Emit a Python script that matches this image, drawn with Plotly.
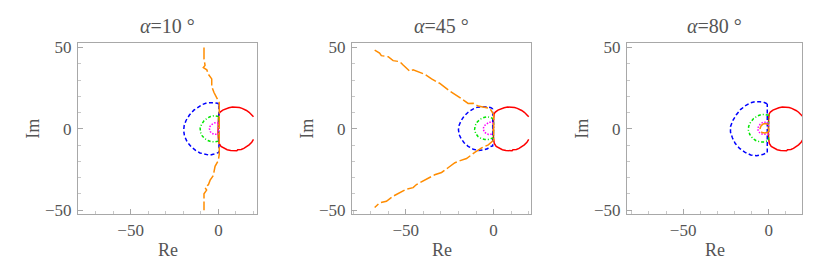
import plotly.graph_objects as go

TITLES = ["<i>α</i>=10 °", "<i>α</i>=45 °", "<i>α</i>=80 °"]
X_TICKS = [-50, 0]
Y_TICKS = [-50, 0, 50]

# Red boundary (same in all panels)
RED_X = [20.0, 19.0, 17.5, 16.0, 15.0, 13.5, 12.0, 10.0, 8.0, 6.0, 4.0, 2.5, 1.0, 0.3, 0.0, -0.2, -0.2, 0.0, 0.4, 1.5, 3.0, 5.0, 7.0, 9.0, 10.5, 11.0, 13.0, 14.5, 16.0, 17.5, 19.0, 20.0]
RED_Y = [7.5, 8.8, 10.2, 11.3, 12.0, 12.6, 13.1, 13.4, 13.4, 13.0, 12.3, 11.5, 10.3, 9.2, 6.0, 2.0, -2.0, -6.0, -9.0, -10.8, -11.8, -12.8, -13.3, -13.5, -13.5, -12.8, -12.7, -12.0, -11.0, -9.8, -8.2, -6.5]

# Panel 1 (alpha = 10)
P1_BLUE_X = [0.3, -0.5, -2.0, -4.0, -6.5, -9.0, -11.5, -14.0, -16.5, -18.5, -19.5, -19.8, -19.3, -17.8, -15.5, -13.0, -10.5, -7.5, -5.0, -2.5, 0.0, 0.3, 0.3, 0.3]
P1_BLUE_Y = [15.0, 15.8, 16.0, 16.2, 16.0, 15.0, 13.5, 11.5, 8.5, 5.0, 2.0, -1.0, -4.5, -8.0, -11.0, -13.2, -14.8, -15.8, -16.2, -15.5, -15.0, -14.5, 0.0, 15.0]
P1_GREEN_X = [0.2, -1.0, -2.5, -4.5, -6.5, -8.3, -9.6, -10.4, -10.2, -9.3, -7.8, -6.0, -4.0, -2.0, -0.5, 0.2, 0.2, 0.2]
P1_GREEN_Y = [7.6, 8.0, 8.1, 7.6, 6.5, 4.8, 2.8, 0.5, -2.0, -4.2, -6.0, -7.2, -7.9, -8.0, -7.7, -7.5, 0.0, 7.6]
P1_MAG_X = [0.1, -1.0, -2.3, -3.6, -4.8, -5.1, -4.7, -3.6, -2.3, -1.0, 0.1, 0.1, 0.1]
P1_MAG_Y = [3.5, 3.8, 3.6, 2.8, 1.5, 0.0, -1.6, -2.8, -3.4, -3.3, -3.1, 0.0, 3.5]
P1_ORANGE_X = [-8.2, -8.2, -7.6, -8.6, -6.6, -5.7, -3.8, -3.8, -2.5, -0.9, 0.5, 0.5, 0.5, 0.5, 0.0, -1.9, -2.9, -4.7, -5.7, -7.6, -6.7, -8.2, -8.2, -8.2]
P1_ORANGE_Y = [50.0, 42.9, 39.0, 37.6, 36.3, 33.5, 30.7, 26.0, 22.3, 18.5, 16.0, 0.0, -8.0, -15.5, -19.3, -23.0, -28.7, -31.5, -34.3, -36.1, -37.6, -39.9, -47.4, -50.0]

# Panel 2 (alpha = 45)
P2_BLUE_X = [-0.5, -1.5, -4.0, -7.0, -9.5, -12.0, -14.5, -16.8, -18.5, -19.6, -20.0, -19.6, -18.5, -16.8, -14.5, -11.6, -8.5, -5.9, -3.5, -2.1, -0.5, -0.5, -0.5]
P2_BLUE_Y = [12.3, 13.0, 13.5, 13.6, 13.2, 12.0, 10.2, 7.8, 5.0, 2.2, -0.5, -3.5, -6.0, -8.5, -10.7, -12.5, -13.3, -13.0, -12.2, -11.0, -10.5, 0.0, 12.3]
P2_GREEN_X = [0.0, -1.5, -3.5, -5.5, -7.5, -9.3, -10.5, -10.8, -10.2, -8.8, -7.0, -5.0, -3.0, -1.2, 0.0, 0.0, 0.0]
P2_GREEN_Y = [6.0, 7.0, 7.4, 7.0, 6.0, 4.2, 2.0, -0.5, -2.8, -4.8, -6.0, -6.5, -6.5, -6.0, -5.5, 0.0, 6.0]
P2_MAG_X = [0.0, -1.2, -2.6, -4.0, -5.4, -5.9, -5.4, -4.2, -2.8, -1.2, 0.0, 0.0, 0.0]
P2_MAG_Y = [3.5, 4.1, 4.1, 3.2, 1.8, 0.0, -1.7, -2.9, -3.4, -3.3, -3.0, 0.0, 3.5]
P2_ORANGE_X = [-67.7, -64.9, -63.9, -60.0, -57.2, -53.4, -51.5, -47.7, -45.8, -42.0, -39.2, -35.3, -30.6, -24.9, -22.0, -19.2, -14.5, -11.6, -8.8, -2.1, 0.0, 0.2, 0.0, -3.0, -6.8, -10.7, -15.4, -19.0, -22.0, -25.9, -29.6, -33.5, -37.3, -41.0, -43.9, -45.8, -49.6, -57.2, -61.0, -64.9, -67.7]
P2_ORANGE_Y = [48.4, 46.6, 45.0, 44.3, 41.9, 41.3, 39.2, 35.4, 36.3, 34.4, 33.5, 30.7, 27.9, 23.2, 21.3, 19.2, 15.6, 15.8, 14.0, 12.6, 8.9, 0.0, -7.0, -9.8, -11.7, -14.5, -18.2, -19.5, -20.8, -23.9, -26.8, -28.2, -30.5, -32.4, -34.2, -36.1, -37.0, -41.4, -44.5, -45.5, -48.3]

# Panel 3 (alpha = 80)
P3_BLUE_X = [-0.8, -2.5, -5.0, -8.0, -10.5, -13.5, -16.5, -19.0, -21.0, -22.3, -22.3, -21.2, -19.5, -17.0, -14.0, -10.5, -7.0, -3.5, -0.8, -0.8, -0.8]
P3_BLUE_Y = [15.3, 16.2, 16.6, 16.7, 16.0, 14.3, 11.8, 8.5, 5.0, 1.3, -2.0, -5.5, -9.0, -12.0, -14.3, -16.0, -16.5, -15.8, -14.6, 0.0, 15.3]
P3_GREEN_X = [0.0, -2.0, -4.1, -6.5, -8.8, -10.6, -11.7, -11.8, -11.0, -9.4, -7.3, -5.0, -2.5, -0.5, 0.0, 0.0, 0.0]
P3_GREEN_Y = [8.3, 8.8, 8.8, 8.0, 6.3, 4.0, 1.5, -1.0, -3.5, -5.8, -7.3, -8.0, -8.0, -7.5, -7.2, 0.0, 8.3]
P3_MAG_X = [0.0, -1.5, -3.0, -4.5, -5.8, -6.4, -5.9, -4.7, -3.2, -1.6, 0.0, 0.0, 0.0]
P3_MAG_Y = [3.6, 4.1, 4.1, 3.3, 1.8, 0.0, -1.7, -2.9, -3.4, -3.4, -3.1, 0.0, 3.6]
P3_ORANGE_X = [0.0, -1.2, -2.8, -4.2, -5.0, -4.8, -3.8, -2.3, -0.8, 0.0, 0.0]
P3_ORANGE_Y = [2.6, 3.2, 3.2, 2.2, 0.5, -1.2, -2.3, -2.6, -2.2, -1.6, 2.6]

PANELS = [
    (P1_BLUE_X, P1_BLUE_Y, P1_GREEN_X, P1_GREEN_Y, P1_MAG_X, P1_MAG_Y, P1_ORANGE_X, P1_ORANGE_Y),
    (P2_BLUE_X, P2_BLUE_Y, P2_GREEN_X, P2_GREEN_Y, P2_MAG_X, P2_MAG_Y, P2_ORANGE_X, P2_ORANGE_Y),
    (P3_BLUE_X, P3_BLUE_Y, P3_GREEN_X, P3_GREEN_Y, P3_MAG_X, P3_MAG_Y, P3_ORANGE_X, P3_ORANGE_Y),
]

W, H = 830, 276
BOX_X = [(78, 257), (352, 531), (627, 802)]
BOX_Y = (40, 218)
X_RANGES = [(-80.0, 22.0), (-80.6, 21.3), (-82.8, 19.5)]
Y_RANGE = (-52.5, 52.5)

FONT = "Liberation Serif"
TXT = "#555555"
FRAME = "#a8a8a8"

fig = go.Figure()
for i, (bx, by, gx, gy, mx, my, ox, oy) in enumerate(PANELS):
    ax = "" if i == 0 else str(i + 1)
    xa, ya = "x" + ax, "y" + ax
    specs = [
        (RED_X, RED_Y, "#ff0000", "solid"),
        (bx, by, "#0000ff", "4px,2.5px"),
        (gx, gy, "#00e600", "3px,2px,1px,2px"),
        (mx, my, "#ff00ff", "1.5px,1.5px"),
        (ox, oy, "#ff8c00", "12px,3px"),
    ]
    for xs, ys, col, dash in specs:
        fig.add_trace(go.Scatter(x=xs, y=ys, mode="lines", xaxis=xa, yaxis=ya,
                                 line=dict(color=col, width=1.5, dash=dash),
                                 showlegend=False, hoverinfo="skip"))
    x0, x1 = BOX_X[i]
    common = dict(showline=True, linecolor=FRAME, linewidth=1, mirror=True,
                  showgrid=False, zeroline=False, ticks="inside", ticklen=5,
                  tickcolor=FRAME, tickwidth=1,
                  tickfont=dict(family=FONT, size=17, color=TXT),
                  minor=dict(ticks="inside", ticklen=3, dtick=10, tickcolor="#c8c8c8"))
    fig.layout["xaxis" + ax] = dict(domain=[x0 / W, x1 / W], range=list(X_RANGES[i]),
                                    anchor=ya, tickvals=X_TICKS, **common)
    fig.layout["yaxis" + ax] = dict(domain=[1 - BOX_Y[1] / H, 1 - BOX_Y[0] / H],
                                    range=list(Y_RANGE), anchor=xa, tickvals=Y_TICKS,
                                    ticklabelstandoff=2, **common)
    cx = (x0 + x1) / 2 / W
    fig.add_annotation(text=TITLES[i], x=cx, y=1 - 22 / H, xref="paper", yref="paper",
                       showarrow=False, font=dict(family=FONT, size=20, color=TXT),
                       xanchor="center", yanchor="middle")
    fig.add_annotation(text="Re", x=cx, y=1 - 255 / H, xref="paper", yref="paper",
                       showarrow=False, font=dict(family=FONT, size=18, color=TXT),
                       xanchor="center", yanchor="middle")
    fig.add_annotation(text="Im", x=(x0 - 45) / W, y=1 - 129 / H, xref="paper", yref="paper",
                       showarrow=False, textangle=-90,
                       font=dict(family=FONT, size=18, color=TXT),
                       xanchor="center", yanchor="middle")

fig.update_layout(width=W, height=H, margin=dict(l=0, r=0, t=0, b=0),
                  plot_bgcolor="white", paper_bgcolor="white")
fig.write_html("out.html", config={"displayModeBar": False},
               post_script="document.body.style.margin='0';")
